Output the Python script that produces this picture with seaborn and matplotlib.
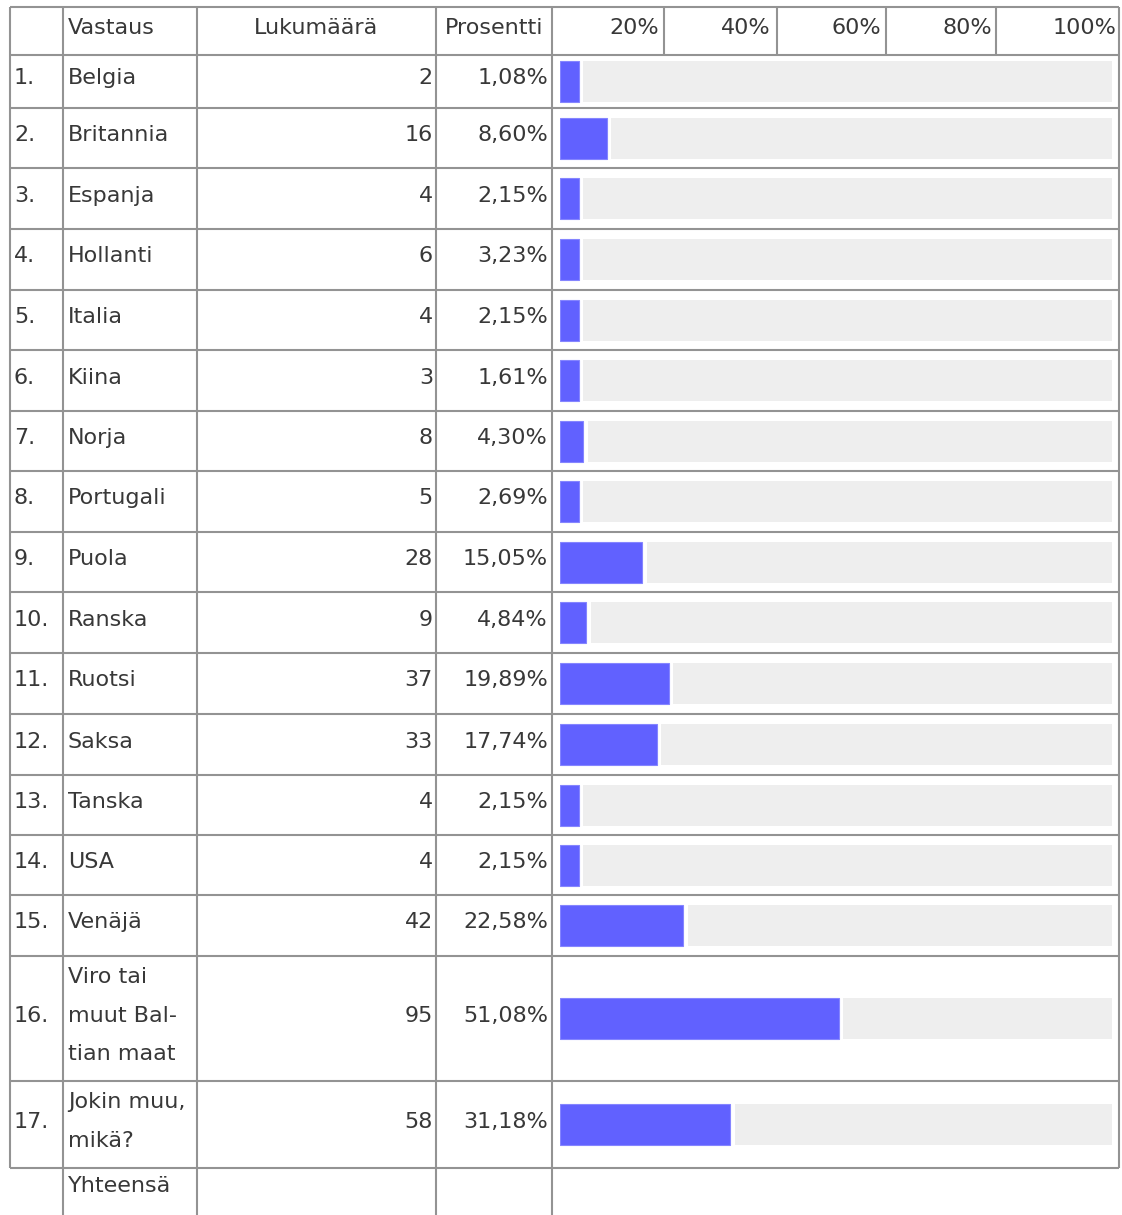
import numpy as np
import pandas as pd
import matplotlib
matplotlib.use("Agg")
import matplotlib.pyplot as plt
import seaborn as sns

# ---------------- data ----------------
answers = ["Belgia", "Britannia", "Espanja", "Hollanti", "Italia", "Kiina",
           "Norja", "Portugali", "Puola", "Ranska", "Ruotsi", "Saksa",
           "Tanska", "USA", "Venäjä", "Viro tai\nmuut Bal-\ntian maat",
           "Jokin muu,\nmikä?"]
counts = [2, 16, 4, 6, 4, 3, 8, 5, 28, 9, 37, 33, 4, 4, 42, 95, 58]
percents = [1.08, 8.60, 2.15, 3.23, 2.15, 1.61, 4.30, 2.69, 15.05, 4.84,
            19.89, 17.74, 2.15, 2.15, 22.58, 51.08, 31.18]
scale_labels = ["20%", "40%", "60%", "80%", "100%"]
header_labels = ["Vastaus", "Lukumäärä", "Prosentti"]
total_label = "Yhteensä"

# ---------------- layout ----------------
W, H = 1122, 1215
row_edges = [7, 55, 108, 168, 229, 290, 350, 411, 471, 532, 592, 653,
             714, 775, 835, 895, 956, 1081, 1168]
col_x = [10, 63, 197, 436, 552, 1119]
scale_x = [664, 777, 886, 996]
scale_label_right = [659, 771, 881, 992, 1116]
line_col = "#939393"
lw = 1.5
txt_col = "#383838"
fs = 16
line_gap = 38.5
base_off = 3

plt.rcParams["font.family"] = ["DejaVu Sans"]
fig = plt.figure(figsize=(W / 100, H / 100), dpi=100)
ax = fig.add_axes([0, 0, 1, 1])
ax.set_xlim(0, W)
ax.set_ylim(H, 0)
ax.axis("off")

# table grid
for y in row_edges:
    ax.plot([col_x[0], col_x[-1]], [y, y], color=line_col, lw=lw, solid_capstyle="butt")
for x in col_x:
    ax.plot([x, x], [row_edges[0], row_edges[-1]], color=line_col, lw=lw, solid_capstyle="butt")
for x in scale_x:
    ax.plot([x, x], [row_edges[0], row_edges[1]], color=line_col, lw=lw, solid_capstyle="butt")
for x in col_x[1:5]:
    ax.plot([x, x], [row_edges[-1], H], color=line_col, lw=lw, solid_capstyle="butt")

# header
hc = (row_edges[0] + row_edges[1]) / 2 + base_off
ax.text(68, hc, header_labels[0], fontsize=fs, color=txt_col, ha="left", va="baseline")
ax.text((col_x[2] + col_x[3]) / 2, hc, header_labels[1], fontsize=fs, color=txt_col, ha="center", va="baseline")
ax.text((col_x[3] + col_x[4]) / 2, hc, header_labels[2], fontsize=fs, color=txt_col, ha="center", va="baseline")
for xr, lab in zip(scale_label_right, scale_labels):
    ax.text(xr, hc, lab, fontsize=fs, color=txt_col, ha="right", va="baseline")

# rows
centers = []
for i, (ans, cnt, pct) in enumerate(zip(answers, counts, percents)):
    top, bot = row_edges[i + 1], row_edges[i + 2]
    c = (top + bot) / 2
    centers.append(c)
    yb = c + base_off
    ax.text(14, yb, f"{i + 1}.", fontsize=fs, color=txt_col, ha="left", va="baseline")
    lines = ans.split("\n")
    n = len(lines)
    for k, ln in enumerate(lines):
        ax.text(68, yb + (k - (n - 1) / 2) * line_gap, ln, fontsize=fs, color=txt_col,
                ha="left", va="baseline")
    ax.text(433, yb, str(cnt), fontsize=fs, color=txt_col, ha="right", va="baseline")
    ax.text(548, yb, f"{pct:.2f}".replace(".", ",") + "%", fontsize=fs, color=txt_col,
            ha="right", va="baseline")

ax.text(68, row_edges[-1] + 21 + base_off, total_label, fontsize=fs, color=txt_col,
        ha="left", va="baseline")

# ---------------- bars ----------------
bar_left, bar_right = 560, 1112
px_per_pct = 5.46
bar_h = 41
min_pct = 3.5
gap = 0.8

bax = fig.add_axes([bar_left / W, 0, (bar_right - bar_left) / W, 1])
df = pd.DataFrame({"answer": answers, "pct": percents, "y": centers})
df["disp"] = np.maximum(df["pct"], min_pct)
xmax = (bar_right - bar_left) / px_per_pct

bax.barh(df["y"], xmax - (df["disp"] + gap), left=df["disp"] + gap, height=bar_h,
         color="#eeeeee", zorder=0)
min_sp = np.min(np.diff(np.sort(df["y"].values)))
sns.barplot(data=df, x="disp", y="y", orient="h", native_scale=True,
            width=bar_h / min_sp, color="#6161ff", saturation=1, errorbar=None,
            edgecolor="#8585ff", linewidth=0.8, ax=bax)
bax.set_xlim(0, xmax)
bax.set_ylim(H, 0)
bax.axis("off")

fig.savefig("out.png", dpi=100)
